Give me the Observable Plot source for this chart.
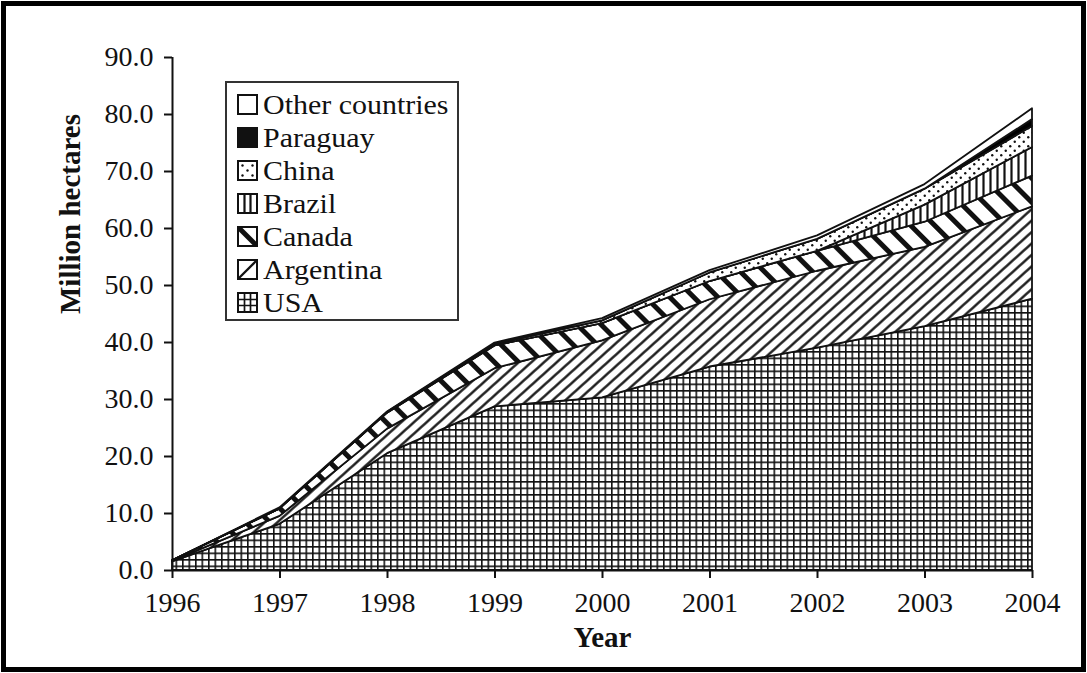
<!DOCTYPE html>
<html>
<head>
<meta charset="utf-8">
<script src="https://cdn.jsdelivr.net/npm/d3@7"></script>
<script src="https://cdn.jsdelivr.net/npm/@observablehq/plot@0.6"></script>
<style>
  html, body { margin: 0; padding: 0; background: white; }
  #wrap { position: relative; width: 1087px; height: 673px; overflow: hidden; }
  #frame { position: absolute; left: 1px; top: 1px; width: 1085px; height: 671px; box-sizing: border-box; border: 5px solid black; pointer-events: none; }
  #legend { position: absolute; left: 225px; top: 81px; width: 234px; height: 240px; box-sizing: border-box; border: 2px solid #333; background: white; padding-top: 5px; color: #111; }
  .row { display: flex; align-items: center; height: 33px; padding-left: 10px; white-space: nowrap; }
  .row svg { margin-right: 5px; flex: none; }
  .row span { display: inline-block; transform: scaleX(1.07); transform-origin: left center; }
</style>
</head>
<body>
<div id="wrap"><div id="chart"></div><div id="legend"></div><div id="frame"></div></div>
<script>
// ---- data (million hectares) ----
const years = [1996, 1997, 1998, 1999, 2000, 2001, 2002, 2003, 2004];
const countries = ["USA", "Argentina", "Canada", "Brazil", "China", "Paraguay", "Other countries"];
const usa       = [1.5, 8.1, 20.5, 28.7, 30.3, 35.7, 39.0, 42.8, 47.6];
const argentina = [0.1, 1.4, 4.3, 6.7, 10.0, 11.8, 13.5, 13.9, 16.2];
const canada    = [0.1, 1.3, 2.8, 4.0, 3.0, 3.2, 3.5, 4.4, 5.4];
const brazil    = [0, 0, 0, 0, 0, 0, 0, 3.0, 5.0];
const china     = [0, 0, 0.1, 0.3, 0.5, 1.5, 2.1, 2.8, 3.7];
const paraguay  = [0, 0, 0, 0, 0, 0, 0, 0, 1.2];
const others    = [0, 0.2, 0.1, 0.2, 0.4, 0.4, 0.6, 0.8, 1.9];
const yTicks = [0, 10, 20, 30, 40, 50, 60, 70, 80, 90];
const legendOrder = ["Other countries", "Paraguay", "China", "Brazil", "Canada", "Argentina", "USA"];

const seriesList = [usa, argentina, canada, brazil, china, paraguay, others];
const fills = ["url(#p-usa)", "url(#p-arg)", "url(#p-can)", "url(#p-bra)", "url(#p-chn)", "black", "white"];

const data = [];
countries.forEach((c, i) => seriesList[i].forEach((v, j) => data.push({year: years[j], country: c, value: v})));

const FONT = '"Liberation Serif", serif';

const chart = Plot.plot({
  width: 1087,
  height: 673,
  marginLeft: 172,
  marginRight: 55,
  marginTop: 57,
  marginBottom: 103,
  style: {background: "transparent", color: "#111"},
  x: {domain: [1996, 2004]},
  y: {domain: [0, 90]},
  color: {domain: countries, range: fills},
  marks: [
    Plot.areaY(data, {x: "year", y: "value", z: "country", fill: "country", order: countries, stroke: "#111", strokeWidth: 1.8, strokeLinejoin: "round"}),
    Plot.ruleX([1996], {stroke: "#111", strokeWidth: 2}),
    Plot.ruleY([0], {stroke: "#111", strokeWidth: 2}),
    Plot.axisX({ticks: years, tickFormat: d => String(d), tickSize: 8, tickPadding: 14, label: null, strokeWidth: 2, fontSize: 28}),
    Plot.axisY({ticks: yTicks, tickFormat: d => d.toFixed(1), tickSize: 8, tickPadding: 11, label: null, strokeWidth: 2, fontSize: 28}),
    Plot.text(["Year"], {frameAnchor: "bottom", dy: 76, fontWeight: "bold", fontSize: 29, fill: "#111"}),
    Plot.text(["Million hectares"], {frameAnchor: "left", dx: -102, rotate: -90, fontWeight: "bold", fontSize: 29, fill: "#111"})
  ]
});

const svg = d3.select(chart);
chart.style.fontFamily = FONT;
svg.selectAll("text, g").each(function() { this.style.fontFamily = FONT; });
svg.attr("font-family", FONT);

const defs = svg.insert("defs", ":first-child");
function pat(id, w, h, transform) {
  const p = defs.append("pattern").attr("id", id).attr("patternUnits", "userSpaceOnUse").attr("width", w).attr("height", h);
  if (transform) p.attr("patternTransform", transform);
  p.append("rect").attr("width", w).attr("height", h).attr("fill", "white");
  return p;
}
// USA: grid
pat("p-usa", 6.5, 6.5).append("path").attr("d", "M0,0.8H6.5M0.8,0V6.5").attr("stroke", "#111").attr("stroke-width", 1.6);
// Argentina: "/" diagonals
pat("p-arg", 8.5, 8.5, "rotate(48)").append("line").attr("x1", 4.25).attr("x2", 4.25).attr("y1", 0).attr("y2", 8.5).attr("stroke", "#111").attr("stroke-width", 2.3);
// Canada: thick "\" bars
pat("p-can", 17, 17, "rotate(-45)").append("line").attr("x1", 8.5).attr("x2", 8.5).attr("y1", 0).attr("y2", 17).attr("stroke", "#111").attr("stroke-width", 5);
// Brazil: vertical lines
pat("p-bra", 7, 7).append("line").attr("x1", 3.5).attr("x2", 3.5).attr("y1", 0).attr("y2", 7).attr("stroke", "#111").attr("stroke-width", 2.2);
// China: dots
const pc = pat("p-chn", 9, 9);
pc.append("circle").attr("cx", 2.25).attr("cy", 2.25).attr("r", 1.2).attr("fill", "#111");
pc.append("circle").attr("cx", 6.75).attr("cy", 6.75).attr("r", 1.2).attr("fill", "#111");

document.getElementById("chart").appendChild(chart);

// ---- legend ----
const legendEl = document.getElementById("legend");
legendEl.style.fontFamily = FONT;
legendEl.style.fontSize = "28px";
const legend = d3.select(legendEl);
legendOrder.forEach(name => {
  const row = legend.append("div").attr("class", "row");
  const s = row.append("svg").attr("width", 21).attr("height", 21);
  const g = s.append("g");
  const fill = name === "Paraguay" ? "#111" : "white";
  g.append("rect").attr("x", 1).attr("y", 1).attr("width", 19).attr("height", 19).attr("fill", fill).attr("stroke", "#111").attr("stroke-width", 2);
  if (name === "USA") g.append("path").attr("d", "M1,7.5H20M1,13.5H20M7.5,1V20M13.5,1V20").attr("stroke", "#111").attr("stroke-width", 1.7);
  if (name === "Argentina") g.append("path").attr("d", "M2,19L19,2").attr("stroke", "#111").attr("stroke-width", 2.3);
  if (name === "Canada") g.append("path").attr("d", "M2,2L19,19").attr("stroke", "#111").attr("stroke-width", 5);
  if (name === "Brazil") g.append("path").attr("d", "M7.5,1V20M13.5,1V20").attr("stroke", "#111").attr("stroke-width", 2.2);
  if (name === "China") [[5.5,5.5],[15.5,5.5],[10.5,10.5],[5.5,15.5],[15.5,15.5]].forEach(([cx, cy]) => g.append("circle").attr("cx", cx).attr("cy", cy).attr("r", 1.2).attr("fill", "#111"));
  const sp = row.append("span").text(name);
  sp.node().style.fontFamily = FONT;
});
</script>
</body>
</html>
